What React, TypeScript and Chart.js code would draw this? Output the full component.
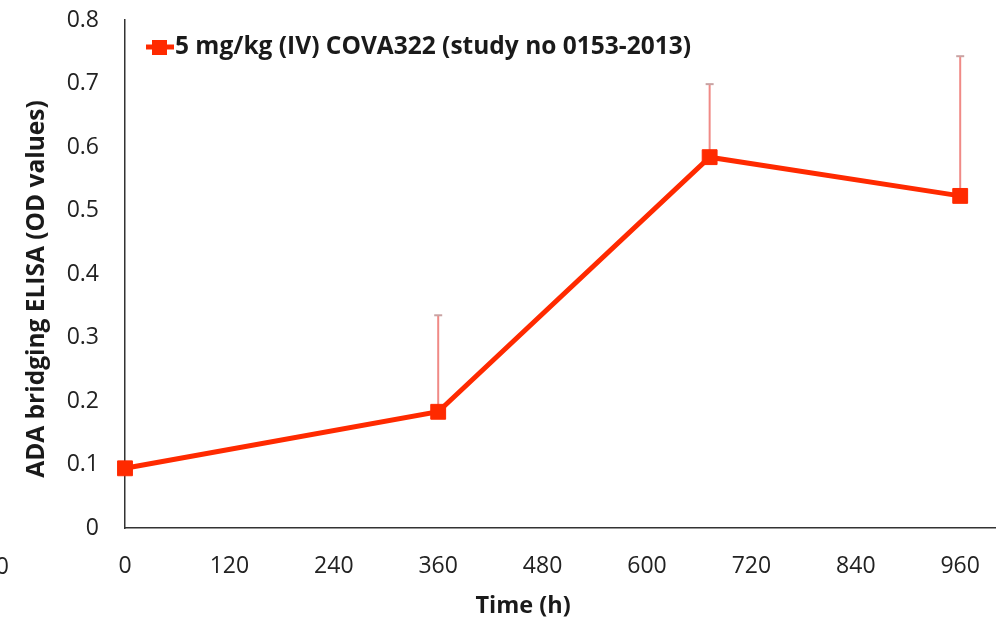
import React, { useEffect, useRef } from "react";
import { Chart, registerables } from "chart.js";

Chart.register(...registerables);

// Sampling times (hours after dosing)
const timeHours = [0, 360, 672, 960];
// Mean OD values from the ADA bridging ELISA
const meanOD = [0.094, 0.183, 0.584, 0.523];
// Upper error (SD) per time point
const sdOD = [0, 0.152, 0.115, 0.22];

const xTickValues = [0, 120, 240, 360, 480, 600, 720, 840, 960];
const yTickValues = [0, 0.1, 0.2, 0.3, 0.4, 0.5, 0.6, 0.7, 0.8];

const seriesLabel = "5 mg/kg (IV) COVA322 (study no 0153-2013)";
const xTitle = "Time (h)";
const yTitle = "ADA bridging ELISA (OD values)";
const strayLabel = "0";

const FONT = "'Open Sans', 'DejaVu Sans', sans-serif";
const RED = "#ff2a00";

const errorBarPlugin = {
  id: "errorBars",
  beforeDatasetsDraw(chart: any) {
    const { ctx, scales } = chart;
    const xs = scales.x;
    const ys = scales.y;
    ctx.save();
    timeHours.forEach((t, i) => {
      const sd = sdOD[i];
      if (!sd) return;
      const px = xs.getPixelForValue(t);
      const y0 = ys.getPixelForValue(meanOD[i]);
      const y1 = ys.getPixelForValue(meanOD[i] + sd);
      ctx.strokeStyle = "#f08a86";
      ctx.lineWidth = 2;
      ctx.beginPath();
      ctx.moveTo(px, y0);
      ctx.lineTo(px, y1);
      ctx.stroke();
      ctx.strokeStyle = "#c9a3a3";
      ctx.beginPath();
      ctx.moveTo(px - 4, y1);
      ctx.lineTo(px + 4, y1);
      ctx.stroke();
    });
    ctx.restore();
  },
};

const annotationPlugin = {
  id: "annotations",
  afterDraw(chart: any) {
    const { ctx } = chart;
    ctx.save();
    // legend entry
    ctx.strokeStyle = RED;
    ctx.lineWidth = 5;
    ctx.beginPath();
    ctx.moveTo(146, 47);
    ctx.lineTo(174, 47);
    ctx.stroke();
    ctx.fillStyle = RED;
    ctx.fillRect(152, 40, 15, 15);
    ctx.fillStyle = "#1a1a1a";
    ctx.font = `bold 24.5px ${FONT}`;
    ctx.textAlign = "left";
    ctx.textBaseline = "middle";
    ctx.fillText(seriesLabel, 175, 47);

    // axis titles
    ctx.font = `bold 23.5px ${FONT}`;
    ctx.textAlign = "center";
    ctx.fillText(xTitle, 523, 606);
    ctx.save();
    ctx.translate(37, 289);
    ctx.rotate(-Math.PI / 2);
    ctx.font = `bold 24.5px ${FONT}`;
    ctx.fillText(yTitle, 0, 0);
    ctx.restore();

    // partially visible label at the left edge
    ctx.fillStyle = "#222";
    ctx.font = `23px ${FONT}`;
    ctx.textAlign = "right";
    ctx.fillText(strayLabel, 9, 567);
    ctx.restore();
  },
};

export default function App() {
  const canvasRef = useRef<HTMLCanvasElement | null>(null);

  useEffect(() => {
    if (!canvasRef.current) return;
    const chart = new Chart(canvasRef.current, {
      type: "line",
      data: {
        datasets: [
          {
            label: seriesLabel,
            data: timeHours.map((t, i) => ({ x: t, y: meanOD[i] })),
            borderColor: RED,
            backgroundColor: RED,
            borderWidth: 5,
            pointStyle: "rect",
            pointRadius: 10.5,
            pointBorderWidth: 1,
            pointBackgroundColor: RED,
            pointBorderColor: RED,
            tension: 0,
            clip: false as any,
          },
        ],
      },
      options: {
        responsive: false,
        animation: false,
        layout: { autoPadding: false, padding: { top: 20, right: 4, left: 0, bottom: 0 } },
        plugins: {
          legend: { display: false },
          tooltip: { enabled: false },
        },
        scales: {
          x: {
            type: "linear",
            min: 0,
            max: 1000,
            afterBuildTicks: (axis: any) => {
              axis.ticks = xTickValues.map((v) => ({ value: v }));
            },
            afterFit: (axis: any) => {
              axis.height = 95;
              axis.paddingLeft = 0;
              axis.paddingRight = 0;
            },
            grid: { display: false, drawTicks: false },
            border: { color: "#333", width: 1.5 },
            ticks: {
              autoSkip: false,
              maxRotation: 0,
              padding: 25,
              color: "#222",
              font: { family: FONT, size: 23 },
              callback: (v: any) => String(v),
            },
          },
          y: {
            min: 0,
            max: 0.8,
            afterBuildTicks: (axis: any) => {
              axis.ticks = yTickValues.map((v) => ({ value: v }));
            },
            afterFit: (axis: any) => {
              axis.width = 125;
              axis.paddingTop = 0;
              axis.paddingBottom = 0;
            },
            grid: { display: false, drawTicks: false },
            border: { color: "#333", width: 1.5 },
            ticks: {
              padding: 26,
              color: "#222",
              font: { family: FONT, size: 23 },
              callback: (v: any) => (v === 0 ? "0" : Number(v).toFixed(1)),
            },
          },
        },
      },
      plugins: [errorBarPlugin, annotationPlugin],
    });
    return () => chart.destroy();
  }, []);

  return (
    <div style={{ position: "fixed", left: 0, top: 0, width: 999, height: 623, background: "#fff" }}>
      <canvas ref={canvasRef} width={999} height={623} />
    </div>
  );
}
